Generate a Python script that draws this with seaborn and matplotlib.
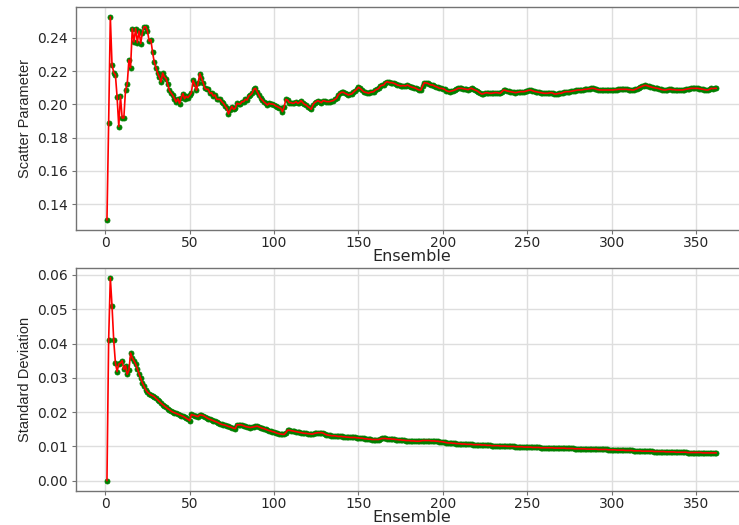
import numpy as np
import seaborn as sns
import matplotlib
matplotlib.use("Agg")
import matplotlib.pyplot as plt

# scatter parameter per ensemble
scatter_param = [
    0.1305, 0.1890, 0.2525, 0.2238, 0.2190, 0.2178, 0.2045, 0.1866, 0.2050, 0.1918,
    0.1918, 0.2086, 0.2120, 0.2266, 0.2220, 0.2455, 0.2375, 0.2455, 0.2370, 0.2440,
    0.2365, 0.2430, 0.2465, 0.2465, 0.2440, 0.2380, 0.2388, 0.2314, 0.2254, 0.2220,
    0.2188, 0.2164, 0.2134, 0.2188, 0.2164, 0.2154, 0.2120, 0.2084, 0.2068, 0.2054,
    0.2034, 0.2014, 0.2034, 0.2004, 0.2040, 0.2064, 0.2034, 0.2048, 0.2040, 0.2054,
    0.2068, 0.2144, 0.2120, 0.2084, 0.2128, 0.2184, 0.2156, 0.2130, 0.2096, 0.2090,
    0.2090, 0.2066, 0.2070, 0.2050, 0.2056, 0.2030, 0.2030, 0.2030, 0.2016, 0.2006,
    0.1990, 0.1976, 0.1942, 0.1966, 0.1986, 0.1970, 0.1976, 0.2006, 0.2002, 0.2002,
    0.2016, 0.2016, 0.2030, 0.2026, 0.2050, 0.2056, 0.2066, 0.2090, 0.2096, 0.2076,
    0.2056, 0.2036, 0.2026, 0.2014, 0.2006, 0.1996, 0.2006, 0.2002, 0.2002, 0.1998,
    0.1990, 0.1986, 0.1980, 0.1976, 0.1956, 0.1986, 0.2030, 0.2025, 0.2010, 0.2010,
    0.2006, 0.2008, 0.2016, 0.2006, 0.2010, 0.2022, 0.2010, 0.2000, 0.1996, 0.1986,
    0.1980, 0.1970, 0.1996, 0.2010, 0.2016, 0.2022, 0.2016, 0.2010, 0.2022, 0.2020,
    0.2016, 0.2016, 0.2016, 0.2020, 0.2022, 0.2030, 0.2036, 0.2056, 0.2066, 0.2072,
    0.2072, 0.2066, 0.2062, 0.2056, 0.2060, 0.2062, 0.2072, 0.2082, 0.2090, 0.2102,
    0.2096, 0.2086, 0.2076, 0.2072, 0.2070, 0.2066, 0.2072, 0.2074, 0.2076, 0.2086,
    0.2090, 0.2096, 0.2110, 0.2114, 0.2116, 0.2130, 0.2136, 0.2132, 0.2130, 0.2130,
    0.2126, 0.2122, 0.2116, 0.2114, 0.2110, 0.2112, 0.2112, 0.2110, 0.2116, 0.2110,
    0.2106, 0.2102, 0.2100, 0.2096, 0.2090, 0.2086, 0.2086, 0.2110, 0.2130, 0.2128,
    0.2126, 0.2120, 0.2116, 0.2116, 0.2110, 0.2106, 0.2102, 0.2096, 0.2096, 0.2094,
    0.2090, 0.2082, 0.2078, 0.2076, 0.2080, 0.2082, 0.2086, 0.2090, 0.2096, 0.2096,
    0.2096, 0.2094, 0.2092, 0.2090, 0.2088, 0.2094, 0.2096, 0.2090, 0.2086, 0.2082,
    0.2076, 0.2068, 0.2062, 0.2064, 0.2068, 0.2070, 0.2068, 0.2066, 0.2066, 0.2068,
    0.2070, 0.2070, 0.2068, 0.2066, 0.2076, 0.2086, 0.2084, 0.2080, 0.2078, 0.2076,
    0.2074, 0.2072, 0.2070, 0.2072, 0.2074, 0.2076, 0.2076, 0.2076, 0.2078, 0.2082,
    0.2084, 0.2086, 0.2082, 0.2078, 0.2076, 0.2074, 0.2072, 0.2070, 0.2068, 0.2066,
    0.2066, 0.2066, 0.2068, 0.2070, 0.2068, 0.2062, 0.2062, 0.2064, 0.2066, 0.2066,
    0.2070, 0.2074, 0.2076, 0.2076, 0.2076, 0.2078, 0.2080, 0.2082, 0.2084, 0.2086,
    0.2086, 0.2086, 0.2088, 0.2090, 0.2090, 0.2092, 0.2094, 0.2096, 0.2096, 0.2094,
    0.2090, 0.2088, 0.2086, 0.2086, 0.2086, 0.2086, 0.2086, 0.2086, 0.2086, 0.2086,
    0.2086, 0.2088, 0.2088, 0.2090, 0.2090, 0.2090, 0.2090, 0.2090, 0.2090, 0.2088,
    0.2088, 0.2086, 0.2086, 0.2090, 0.2094, 0.2100, 0.2104, 0.2108, 0.2112, 0.2114,
    0.2112, 0.2108, 0.2106, 0.2102, 0.2100, 0.2098, 0.2096, 0.2094, 0.2090, 0.2088,
    0.2086, 0.2086, 0.2088, 0.2090, 0.2090, 0.2088, 0.2088, 0.2086, 0.2086, 0.2086,
    0.2086, 0.2086, 0.2088, 0.2090, 0.2092, 0.2094, 0.2096, 0.2096, 0.2096, 0.2096,
    0.2096, 0.2094, 0.2092, 0.2090, 0.2088, 0.2086, 0.2086, 0.2090, 0.2096, 0.2094,
    0.2096, 0.2096,
]

# standard deviation per ensemble
std_dev = [
    0.0000, 0.0410, 0.0592, 0.0510, 0.0410, 0.0344, 0.0318, 0.0340, 0.0343, 0.0350,
    0.0325, 0.0335, 0.0310, 0.0322, 0.0372, 0.0358, 0.0350, 0.0340, 0.0326, 0.0312,
    0.0298, 0.0285, 0.0275, 0.0265, 0.0258, 0.0254, 0.0250, 0.0248, 0.0245, 0.0240,
    0.0236, 0.0231, 0.0226, 0.0222, 0.0218, 0.0214, 0.0210, 0.0207, 0.0203, 0.0200,
    0.0198, 0.0196, 0.0194, 0.0192, 0.0190, 0.0188, 0.0185, 0.0182, 0.0179, 0.0175,
    0.0193, 0.0191, 0.0190, 0.0188, 0.0187, 0.0192, 0.0191, 0.0190, 0.0187, 0.0184,
    0.0181, 0.0179, 0.0177, 0.0175, 0.0173, 0.0171, 0.0169, 0.0166, 0.0164, 0.0163,
    0.0162, 0.0160, 0.0158, 0.0157, 0.0155, 0.0153, 0.0152, 0.0163, 0.0163, 0.0163,
    0.0162, 0.0160, 0.0158, 0.0157, 0.0156, 0.0155, 0.0156, 0.0157, 0.0158, 0.0159,
    0.0157, 0.0155, 0.0153, 0.0152, 0.0150, 0.0148, 0.0146, 0.0145, 0.0143, 0.0142,
    0.0140, 0.0138, 0.0137, 0.0136, 0.0135, 0.0135, 0.0140, 0.0147, 0.0147, 0.0146,
    0.0145, 0.0144, 0.0143, 0.0142, 0.0141, 0.0140, 0.0139, 0.0138, 0.0138, 0.0137,
    0.0137, 0.0136, 0.0136, 0.0138, 0.0139, 0.0140, 0.0140, 0.0140, 0.0139, 0.0136,
    0.0134, 0.0133, 0.0132, 0.0131, 0.0131, 0.0131, 0.0130, 0.0129, 0.0129, 0.0129,
    0.0128, 0.0128, 0.0127, 0.0127, 0.0126, 0.0126, 0.0126, 0.0126, 0.0125, 0.0125,
    0.0124, 0.0124, 0.0123, 0.0122, 0.0122, 0.0121, 0.0121, 0.0120, 0.0120, 0.0120,
    0.0120, 0.0120, 0.0122, 0.0123, 0.0123, 0.0123, 0.0122, 0.0122, 0.0122, 0.0121,
    0.0121, 0.0120, 0.0120, 0.0119, 0.0119, 0.0118, 0.0118, 0.0117, 0.0117, 0.0117,
    0.0116, 0.0116, 0.0116, 0.0115, 0.0115, 0.0115, 0.0116, 0.0117, 0.0117, 0.0117,
    0.0117, 0.0117, 0.0116, 0.0116, 0.0116, 0.0115, 0.0115, 0.0114, 0.0114, 0.0113,
    0.0112, 0.0111, 0.0110, 0.0110, 0.0110, 0.0109, 0.0109, 0.0108, 0.0108, 0.0108,
    0.0107, 0.0107, 0.0107, 0.0106, 0.0106, 0.0106, 0.0106, 0.0105, 0.0105, 0.0105,
    0.0105, 0.0105, 0.0104, 0.0104, 0.0104, 0.0103, 0.0103, 0.0103, 0.0102, 0.0102,
    0.0102, 0.0102, 0.0102, 0.0101, 0.0101, 0.0101, 0.0101, 0.0100, 0.0100, 0.0100,
    0.0100, 0.0100, 0.0099, 0.0099, 0.0099, 0.0099, 0.0099, 0.0098, 0.0098, 0.0098,
    0.0098, 0.0098, 0.0097, 0.0097, 0.0097, 0.0097, 0.0097, 0.0096, 0.0096, 0.0096,
    0.0096, 0.0096, 0.0096, 0.0096, 0.0096, 0.0095, 0.0095, 0.0095, 0.0095, 0.0095,
    0.0095, 0.0095, 0.0094, 0.0094, 0.0094, 0.0094, 0.0094, 0.0093, 0.0093, 0.0093,
    0.0093, 0.0093, 0.0093, 0.0093, 0.0092, 0.0092, 0.0092, 0.0092, 0.0092, 0.0092,
    0.0092, 0.0091, 0.0091, 0.0091, 0.0091, 0.0091, 0.0091, 0.0090, 0.0090, 0.0090,
    0.0090, 0.0090, 0.0089, 0.0089, 0.0089, 0.0089, 0.0089, 0.0088, 0.0088, 0.0088,
    0.0088, 0.0088, 0.0087, 0.0087, 0.0087, 0.0087, 0.0087, 0.0086, 0.0086, 0.0086,
    0.0086, 0.0086, 0.0086, 0.0086, 0.0085, 0.0085, 0.0085, 0.0085, 0.0085, 0.0085,
    0.0085, 0.0084, 0.0084, 0.0084, 0.0084, 0.0084, 0.0084, 0.0083, 0.0083, 0.0083,
    0.0083, 0.0083, 0.0083, 0.0083, 0.0082, 0.0082, 0.0082, 0.0082, 0.0082, 0.0082,
    0.0082, 0.0082, 0.0082, 0.0081, 0.0081, 0.0081, 0.0081, 0.0081, 0.0081, 0.0081,
    0.0081, 0.0081,
]

ensemble = list(range(1, len(scatter_param) + 1))
ylabels = ["Scatter Parameter", "Standard Deviation"]
xlabel = "Ensemble"

sns.set_style("whitegrid", {
    "axes.edgecolor": "0.45",
    "grid.color": "0.87",
    "xtick.bottom": True,
    "ytick.left": True,
    "xtick.color": "0.15",
    "ytick.color": "0.15",
})
plt.rcParams["font.family"] = ["DejaVu Sans"]
plt.rcParams["xtick.major.size"] = 3
plt.rcParams["ytick.major.size"] = 3
plt.rcParams["xtick.major.width"] = 0.8
plt.rcParams["ytick.major.width"] = 0.8

fig = plt.figure(figsize=(7.39, 5.25), dpi=100)
ax1 = fig.add_axes([0.1035, 0.5615, 0.907, 0.4257])
ax2 = fig.add_axes([0.1035, 0.0651, 0.907, 0.4253])

for ax, vals, lab in zip([ax1, ax2], [scatter_param, std_dev], ylabels):
    sns.scatterplot(x=ensemble, y=vals, color="green", edgecolor="green",
                    s=13, linewidth=0.6, ax=ax, zorder=2)
    sns.lineplot(x=ensemble, y=vals, color="red", linewidth=1.2, ax=ax, zorder=3)
    ax.set_xlabel(xlabel, fontsize=11.5, labelpad=-1)
    ax.set_ylabel(lab, fontsize=10.5, family=["Liberation Sans", "DejaVu Sans"])
    ax.tick_params(axis="y", labelsize=10, pad=3, color="0.45")
    ax.tick_params(axis="x", labelsize=10, pad=1.5, color="0.45")
    ax.grid(True, linewidth=1)
    for s in ax.spines.values():
        s.set_linewidth(1)

fig.savefig("out.png", dpi=100)
